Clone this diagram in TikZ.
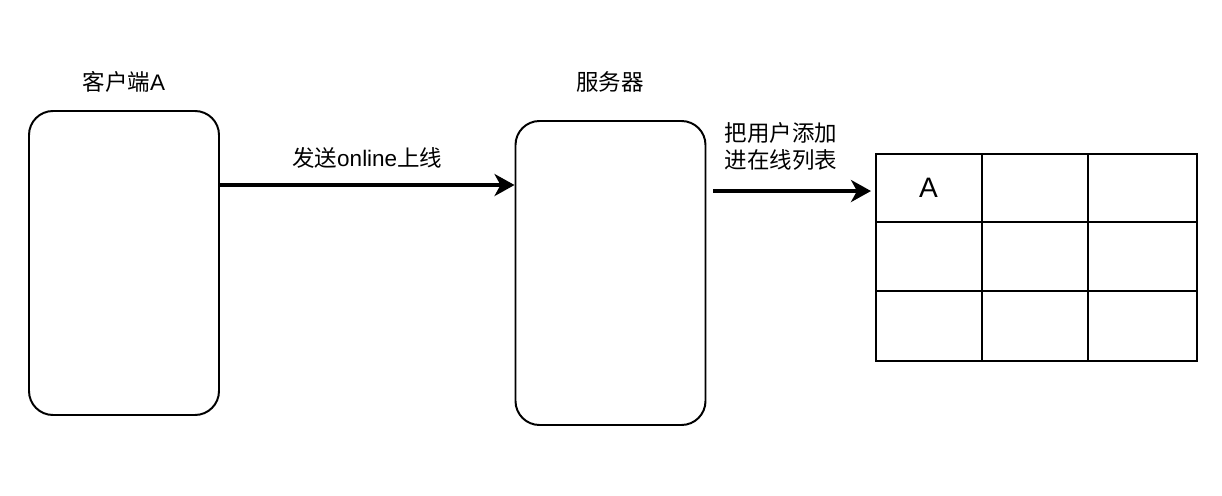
\documentclass[tikz,border=0pt]{standalone}
\usepackage{fontspec}
\setmainfont{Liberation Sans}
\newfontfamily\cjk{Noto Sans CJK SC}
\usepackage{tikz}
\usetikzlibrary{calc,arrows.meta}

\tikzset{
    hostbox/.style={draw, line width=1.4pt, rounded corners=0.6cm,
        minimum width=4.75cm, minimum height=7.6cm},
    msgarrow/.style={line width=2.9pt, -{Stealth[length=5mm, width=5.5mm, inset=1.5mm]}},
    lbl/.style={font=\fontsize{16}{19.5}\selectfont}
}

\begin{document}
\begin{tikzpicture}

    % khung hinh
    \useasboundingbox (0,0) rectangle (30.55,-12.375);

    % 1. client va server
    \node[hostbox] (client) at (3.1,-6.575) {};
    \node[hostbox] (server) at (15.2625,-6.825) {};
    \node[lbl] (clientlbl) at (3.1,-2.05) {{\cjk 客户端}A};
    \node[lbl] (serverlbl) at (15.25,-2.05) {\cjk 服务器};

    % 2. bang danh sach online (3 x 3)
    \node[draw, line width=1.3pt, minimum width=8.03cm, minimum height=5.175cm,
          anchor=north west] (tbl) at (21.875,-3.825) {};
    \foreach \x in {2.675,5.325}
        \draw[line width=1.3pt] ($(tbl.north west)+(\x,0)$) -- ($(tbl.south west)+(\x,0)$);
    \foreach \y in {1.725,3.45}
        \draw[line width=1.3pt] ($(tbl.north west)+(0,-\y)$) -- ($(tbl.north east)+(0,-\y)$);
    \node[font=\fontsize{20}{24}\selectfont] (cellA) at ($(tbl.north west)+(1.34,-0.86)$) {A};

    % 3. cac mui ten
    \coordinate (c1) at ($(client.north east)+(0,-1.875)$);
    \draw[msgarrow] (c1) -- (c1 -| server.west) node[midway, above=0.25cm, lbl] (sendlbl) {{\cjk 发送}online{\cjk 上线}};

    \coordinate (s2) at ($(server.north east)+(0.175,-1.775)$);
    \draw[msgarrow] (s2) -- ($(s2 -| tbl.west)+(-0.1,0)$);
    \node[lbl, align=left, anchor=west] (addlbl) at (18.0,-3.66)
        {\cjk 把用户添加\\\cjk 进在线列表};

\end{tikzpicture}
\end{document}
